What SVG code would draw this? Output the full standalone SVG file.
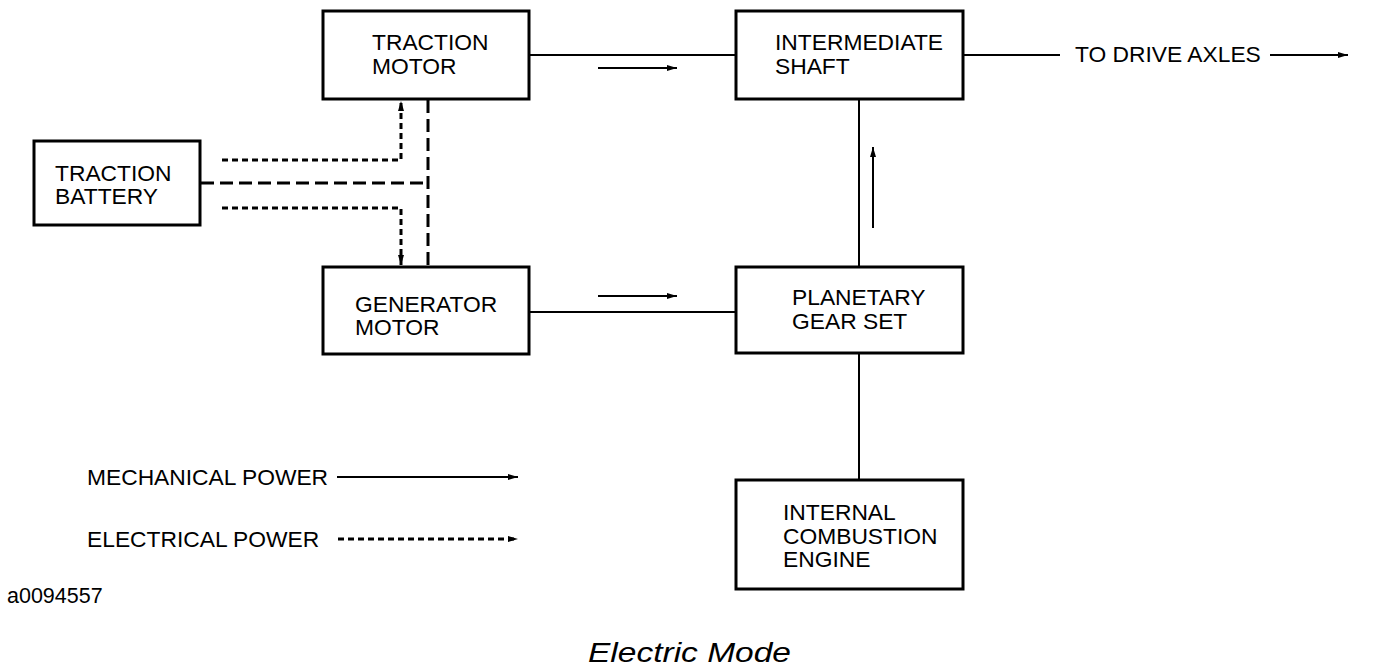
<svg xmlns="http://www.w3.org/2000/svg" width="1376" height="672" viewBox="0 0 1376 672">
<defs>
<style>
.box{fill:#fff;stroke:#000;stroke-width:3}
.t{font-family:"Liberation Sans",Arial,sans-serif;font-size:22.8px;fill:#000}
.ln{stroke:#000;stroke-width:2;fill:none}
.dot{stroke:#000;stroke-width:3;fill:none;stroke-dasharray:6 4}
.dash{stroke:#000;stroke-width:3;fill:none;stroke-dasharray:13 6}
</style>
<marker id="ah" viewBox="0 0 10 6" refX="10" refY="3" markerWidth="10" markerHeight="6" markerUnits="userSpaceOnUse" orient="auto">
<path d="M0,0 L10,3 L0,6 z" fill="#000"/>
</marker>
</defs>
<rect width="1376" height="672" fill="#fff"/>
<g id="connectors">
<line class="ln" x1="529" y1="55" x2="736" y2="55"/>
<line class="ln" x1="598" y1="68" x2="677" y2="68" marker-end="url(#ah)"/>
<line class="ln" x1="529" y1="312" x2="736" y2="312"/>
<line class="ln" x1="598" y1="296" x2="677" y2="296" marker-end="url(#ah)"/>
<line class="ln" x1="859" y1="99" x2="859" y2="267"/>
<line class="ln" x1="873" y1="228" x2="873" y2="147" marker-end="url(#ah)"/>
<line class="ln" x1="859" y1="353" x2="859" y2="480"/>
<line class="ln" x1="964" y1="55" x2="1060" y2="55"/>
<line class="ln" x1="1270" y1="55" x2="1348" y2="55" marker-end="url(#ah)"/>
<polyline class="dot" points="222,160 401,160 401,101" marker-end="url(#ah)"/>
<polyline class="dot" points="222,208 401,208 401,265" marker-end="url(#ah)"/>
<line class="dash" x1="201" y1="183" x2="428" y2="183"/>
<line class="dash" x1="428" y1="100" x2="428" y2="266"/>
<line class="ln" x1="337" y1="477" x2="518" y2="477" marker-end="url(#ah)"/>
<line class="dot" x1="338" y1="539" x2="518" y2="539" stroke-width="2" marker-end="url(#ah)"/>
</g>
<g id="traction-motor">
<rect class="box" x="323" y="11" width="206" height="88"/>
<text class="t" x="372" y="50">TRACTION</text>
<text class="t" x="372" y="74">MOTOR</text>
</g>
<g id="intermediate-shaft">
<rect class="box" x="736" y="11" width="227" height="88"/>
<text class="t" x="775" y="50">INTERMEDIATE</text>
<text class="t" x="775" y="74">SHAFT</text>
</g>
<g id="traction-battery">
<rect class="box" x="34" y="141" width="166" height="84"/>
<text class="t" x="55" y="181">TRACTION</text>
<text class="t" x="55" y="204">BATTERY</text>
</g>
<g id="generator-motor">
<rect class="box" x="323" y="267" width="206" height="87"/>
<text class="t" x="355" y="312">GENERATOR</text>
<text class="t" x="355" y="335">MOTOR</text>
</g>
<g id="planetary-gear-set">
<rect class="box" x="736" y="267" width="227" height="86"/>
<text class="t" x="792" y="305">PLANETARY</text>
<text class="t" x="792" y="329">GEAR SET</text>
</g>
<g id="internal-combustion-engine">
<rect class="box" x="736" y="480" width="227" height="109"/>
<text class="t" x="783" y="520">INTERNAL</text>
<text class="t" x="783" y="544">COMBUSTION</text>
<text class="t" x="783" y="567">ENGINE</text>
</g>
<g id="labels">
<text class="t" x="1075" y="62">TO DRIVE AXLES</text>
<text class="t" x="87" y="485">MECHANICAL POWER</text>
<text class="t" x="87" y="547">ELECTRICAL POWER</text>
<text class="t" x="7" y="603" style="font-size:21.5px">a0094557</text>
<text class="t" x="588" y="662" style="font-size:27px;font-style:italic" textLength="203" lengthAdjust="spacingAndGlyphs">Electric Mode</text>
</g>
</svg>
